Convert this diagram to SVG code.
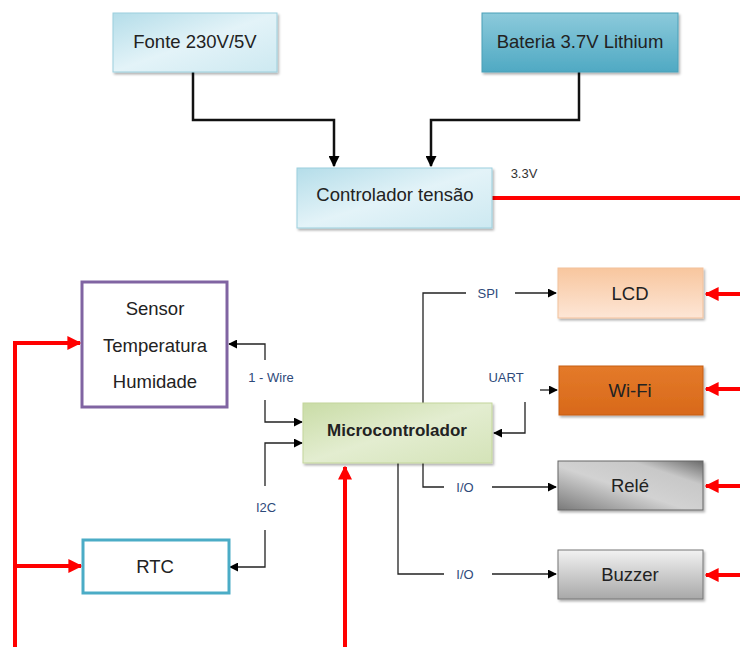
<svg xmlns="http://www.w3.org/2000/svg" width="740" height="647" viewBox="0 0 740 647">
<defs>
<linearGradient id="gBlueLight" x1="0" y1="0" x2="1" y2="1">
<stop offset="0" stop-color="#b4dde9"/><stop offset="0.5" stop-color="#e3f3f8"/><stop offset="1" stop-color="#cde9f1"/>
</linearGradient>
<linearGradient id="gBlue" x1="0" y1="0" x2="0" y2="1">
<stop offset="0" stop-color="#8ccadb"/><stop offset="1" stop-color="#4fa9c3"/>
</linearGradient>
<linearGradient id="gGreen" x1="0" y1="0" x2="1" y2="1">
<stop offset="0" stop-color="#c9dca6"/><stop offset="0.5" stop-color="#e3edd0"/><stop offset="1" stop-color="#d4e3b8"/>
</linearGradient>
<linearGradient id="gPeach" x1="0" y1="0" x2="0" y2="1">
<stop offset="0" stop-color="#f8c69e"/><stop offset="1" stop-color="#fde6d6"/>
</linearGradient>
<linearGradient id="gOrange" x1="0" y1="0" x2="0" y2="1">
<stop offset="0" stop-color="#e47a2a"/><stop offset="1" stop-color="#d8691a"/>
</linearGradient>
<linearGradient id="gGray" x1="0" y1="1" x2="1" y2="0">
<stop offset="0" stop-color="#7a7a7a"/><stop offset="0.45" stop-color="#d2d2d2"/><stop offset="0.75" stop-color="#c8c8c8"/><stop offset="1" stop-color="#6a6a6a"/>
</linearGradient>
<linearGradient id="gGray2" x1="0" y1="0" x2="0" y2="1">
<stop offset="0" stop-color="#f2f2f2"/><stop offset="1" stop-color="#a8a8a8"/>
</linearGradient>
<marker id="ab" viewBox="0 0 10 10" refX="9" refY="5" markerWidth="9" markerHeight="9" markerUnits="userSpaceOnUse" orient="auto">
<path d="M0,0 L10,5 L0,10 z" fill="#000"/>
</marker>
<marker id="ab2" viewBox="0 0 10 10" refX="9" refY="5" markerWidth="11" markerHeight="11" markerUnits="userSpaceOnUse" orient="auto">
<path d="M0,0 L10,5 L0,10 z" fill="#000"/>
</marker>
<marker id="ar" viewBox="0 0 10 10" refX="9" refY="5" markerWidth="14" markerHeight="14" markerUnits="userSpaceOnUse" orient="auto">
<path d="M0,0 L10,5 L0,10 z" fill="#ff0000"/>
</marker>
<filter id="sh" x="-10%" y="-10%" width="130%" height="140%">
<feDropShadow dx="1.5" dy="2" stdDeviation="1" flood-color="#000" flood-opacity="0.3"/>
</filter>
</defs>
<style>
text{font-family:"Liberation Sans",Arial,sans-serif;fill:#222;}
.t{font-size:18.5px;text-anchor:middle;}
.lbl{font-size:13px;text-anchor:middle;fill:#2e4a7a;}
.blk{fill:none;stroke:#111;stroke-width:2.5;}
.thin{fill:none;stroke:#222;stroke-width:1.3;}
.red{fill:none;stroke:#ff0000;stroke-width:4;}
</style>
<rect width="740" height="647" fill="#fff"/>

<g id="connectors">
<polyline class="blk" points="193,72 193,120 334,120 334,166" marker-end="url(#ab2)"/>
<polyline class="blk" points="579,72 579,120 431,120 431,166" marker-end="url(#ab2)"/>
<line class="red" x1="492" y1="198" x2="740" y2="198"/>
<polyline class="thin" points="265,360 265,344 229,344" marker-end="url(#ab)"/>
<polyline class="thin" points="265,400 265,422 302,422" marker-end="url(#ab)"/>
<polyline class="thin" points="265,486 265,443 302,443" marker-end="url(#ab)"/>
<polyline class="thin" points="265,530 265,567 230,567" marker-end="url(#ab)"/>
<polyline class="thin" points="423,403 423,293 466,293"/>
<line class="thin" x1="515" y1="293" x2="556" y2="293" marker-end="url(#ab)"/>
<polyline class="thin" points="525,402 525,433 494,433" marker-end="url(#ab)"/>
<line class="thin" x1="540" y1="390" x2="557" y2="390" marker-end="url(#ab)"/>
<polyline class="thin" points="423,463 423,487 444,487"/>
<line class="thin" x1="492" y1="487" x2="556" y2="487" marker-end="url(#ab)"/>
<polyline class="thin" points="398,463 398,574 444,574"/>
<line class="thin" x1="492" y1="574" x2="556" y2="574" marker-end="url(#ab)"/>
<line class="red" x1="740" y1="294" x2="706" y2="294" marker-end="url(#ar)"/>
<line class="red" x1="740" y1="389" x2="706" y2="389" marker-end="url(#ar)"/>
<line class="red" x1="740" y1="486" x2="706" y2="486" marker-end="url(#ar)"/>
<line class="red" x1="740" y1="575" x2="706" y2="575" marker-end="url(#ar)"/>
<polyline class="red" points="15,647 15,343 80,343" marker-end="url(#ar)"/>
<line class="red" x1="15" y1="566" x2="81" y2="566" marker-end="url(#ar)"/>
<line class="red" x1="345" y1="647" x2="345" y2="467" marker-end="url(#ar)"/>
<text class="lbl" x="271" y="382">1 - Wire</text>
<text class="lbl" x="266" y="512">I2C</text>
<text class="lbl" x="488" y="298">SPI</text>
<text class="lbl" x="506" y="382">UART</text>
<text class="lbl" x="465" y="492">I/O</text>
<text class="lbl" x="465" y="579">I/O</text>
<text x="524" y="178" style="font-size:13px;text-anchor:middle;fill:#333;">3.3V</text>
</g>

<g id="fonte">
<rect x="113" y="13" width="164" height="59" fill="url(#gBlueLight)" stroke="#9ccfdd" stroke-width="1" filter="url(#sh)"/>
<text class="t" x="195" y="48">Fonte 230V/5V</text>
</g>
<g id="bateria">
<rect x="482" y="13" width="196" height="59" fill="url(#gBlue)" stroke="#4aa0b8" stroke-width="1" filter="url(#sh)"/>
<text class="t" x="580" y="48">Bateria 3.7V Lithium</text>
</g>
<g id="controlador">
<rect x="297" y="168" width="195" height="60" fill="url(#gBlueLight)" stroke="#9ccfdd" stroke-width="1" filter="url(#sh)"/>
<text class="t" x="395" y="201">Controlador tensão</text>
</g>
<g id="sensor">
<rect x="82" y="282" width="145" height="125" fill="#fff" stroke="#8064a2" stroke-width="3"/>
<text class="t" x="155" y="315">Sensor</text>
<text class="t" x="155" y="352">Temperatura</text>
<text class="t" x="155" y="388">Humidade</text>
</g>
<g id="micro">
<rect x="303" y="403" width="189" height="60" fill="url(#gGreen)" stroke="#c3d69b" stroke-width="1" filter="url(#sh)"/>
<text class="t" x="397" y="436" style="font-weight:bold;font-size:17px;">Microcontrolador</text>
</g>
<g id="lcd">
<rect x="558" y="268" width="145" height="50" fill="url(#gPeach)" stroke="#f2c19c" stroke-width="1" filter="url(#sh)"/>
<text class="t" x="630" y="300">LCD</text>
</g>
<g id="wifi">
<rect x="559" y="366" width="144" height="49" fill="url(#gOrange)" stroke="#c65f14" stroke-width="1" filter="url(#sh)"/>
<text class="t" x="630" y="397">Wi-Fi</text>
</g>
<g id="rele">
<rect x="558" y="461" width="145" height="49" fill="url(#gGray)" stroke="#666" stroke-width="1" filter="url(#sh)"/>
<text class="t" x="630" y="492">Relé</text>
</g>
<g id="buzzer">
<rect x="558" y="550" width="145" height="49" fill="url(#gGray2)" stroke="#777" stroke-width="1" filter="url(#sh)"/>
<text class="t" x="630" y="581">Buzzer</text>
</g>
<g id="rtc">
<rect x="83" y="540" width="146" height="53" fill="#fff" stroke="#4bacc6" stroke-width="3"/>
<text class="t" x="155" y="573">RTC</text>
</g>
</svg>
